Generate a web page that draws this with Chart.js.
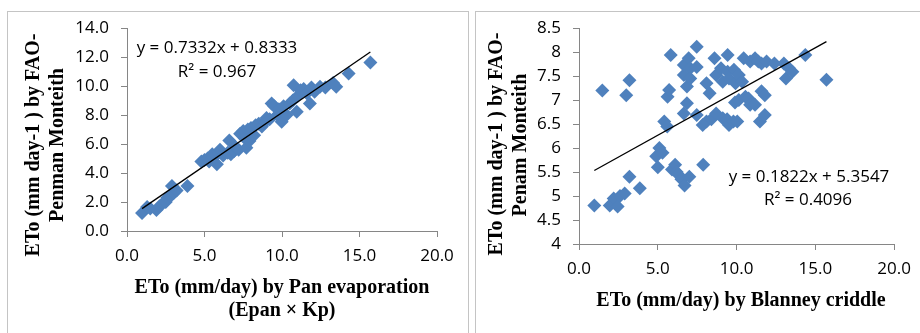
<!DOCTYPE html>
<html>
<head>
    <title>ETo comparison</title>
    <script src="https://cdn.jsdelivr.net/npm/chart.js"></script>
    <style>
        body { margin: 0; background: #fff; width: 920px; height: 333px; overflow: hidden; position: relative; }
        .panel { position: absolute; top: 11px; height: 340px; border: 1px solid #c4c4c4; }
        canvas { position: absolute; top: 0; }
    </style>
</head>
<body>
    <div class="panel" style="left:7px; width:460px;"></div>
    <div class="panel" style="left:475px; width:460px;"></div>
    <canvas id="panChart" width="468" height="333" style="left:0"></canvas>
    <canvas id="bcChart" width="450" height="333" style="left:470px"></canvas>

    <script>
        // ETo by Pan evaporation (x) vs FAO-Penman Monteith (y)
        const panX = [0.97, 1.3, 1.5, 1.9, 2.1, 2.3, 2.5, 2.6, 2.8, 2.9, 3.0, 3.2, 3.9,
            4.8, 5.0, 5.2, 5.3, 5.5, 5.6, 5.8, 5.9, 6.0, 6.2, 6.5, 6.6, 6.7, 6.9, 7.0, 7.2,
            7.3, 7.5, 7.6, 7.7, 7.8, 7.9, 8.0, 8.2, 8.3, 8.5, 8.7, 8.9, 9.0, 9.2, 9.33, 9.5,
            9.7, 9.8, 9.98, 10.1, 10.3, 10.5, 10.7, 10.75, 10.95, 11.0, 11.2, 11.4, 11.6, 11.8,
            11.9, 12.1, 12.45, 12.8, 13.3, 13.5, 14.3, 15.7];
        const panY = [1.24, 1.65, 1.55, 1.45, 1.7, 1.9, 2.0, 2.3, 2.4, 3.1, 2.6, 2.8, 3.1,
            4.8, 4.9, 5.0, 4.8, 5.3, 5.1, 4.6, 5.4, 5.6, 5.2, 5.4, 6.25, 5.3, 5.5, 5.8, 5.6,
            6.7, 6.9, 6.4, 5.75, 7.0, 6.2, 7.1, 6.6, 7.3, 7.4, 7.2, 7.5, 7.8, 7.7, 8.8, 8.6,
            8.0, 8.4, 7.54, 8.6, 8.0, 8.8, 9.0, 10.05, 8.23, 9.3, 9.7, 9.8, 9.5, 8.8,
            9.9, 9.6, 9.95, 9.9, 10.2, 9.95, 10.87, 11.62];

        // ETo by Blanney criddle (x) vs FAO-Penam Monteith (y)
        const bcX = [0.97, 1.48, 1.95, 2.2, 2.45, 2.6, 2.9, 3.0, 3.2, 3.2, 3.86, 4.9, 5.0, 5.1,
            5.3, 5.41, 5.6, 5.62, 5.72, 5.82, 5.9, 6.1, 6.2, 6.3, 6.5, 6.65, 6.65, 6.65, 6.7,
            6.85, 6.85, 6.96, 7.0, 7.06, 7.06, 7.47, 7.47, 7.47, 7.85, 7.88, 8.09, 8.09, 8.29,
            8.4, 8.6, 8.7, 8.7, 9.01, 9.12, 9.12, 9.4, 9.43, 9.43, 9.52, 9.52, 9.8, 9.83, 9.9,
            9.93, 10.04, 10.14, 10.14, 10.35, 10.45, 10.56, 10.76, 10.86, 10.86, 11.17, 11.17,
            11.38, 11.48, 11.58, 11.58, 11.79, 11.79, 11.9, 12.4, 13.0, 13.13, 13.33, 13.54,
            14.36, 15.7];
        const bcY = [4.80, 7.20, 4.80, 4.95, 4.78, 5.0, 5.05, 7.10, 7.41, 5.40, 5.16, 5.83, 5.6, 6.0,
            5.9, 6.55, 6.45, 7.07, 7.21, 7.94, 5.55, 5.65, 5.5, 5.45, 5.35, 7.73, 7.52, 6.72, 5.22,
            7.28, 6.93, 7.87, 5.4, 7.66, 7.45, 7.69, 8.11, 6.69, 6.48, 5.65, 7.35, 6.55, 7.14,
            6.6, 7.87, 7.52, 6.72, 7.66, 7.38, 6.62, 6.6, 7.94, 7.59, 7.45, 6.48, 6.55, 7.63, 6.95,
            7.35, 6.55, 7.52, 7.0, 7.38, 7.87, 7.07, 7.03, 7.8, 6.9, 7.87, 6.9,
            7.8, 6.55, 7.76, 7.18, 7.1, 6.69, 7.8, 7.76, 7.76, 7.45, 7.66, 7.59,
            7.94, 7.42];

        // trendline equations printed on the charts
        const panFit = { slope: 0.7332, intercept: 0.8333, r2: '0.967' };
        const bcFit = { slope: 0.1822, intercept: 5.3547, r2: '0.4096' };

        const markerColor = '#4F81BD';
        const axisColor = '#868686';
        const tickFont = { family: 'Open Sans', size: 17 };
        const titleFont = 'bold 20px "Liberation Serif"';
        const eqFont = '17px "Open Sans"';

        // draws axis titles and the equation text
        const textPlugin = {
            id: 'texts',
            afterDraw(chart, args, opts) {
                const ctx = chart.ctx;
                opts.items.forEach(t => {
                    ctx.save();
                    ctx.fillStyle = '#000';
                    ctx.font = t.font;
                    ctx.textAlign = 'center';
                    ctx.textBaseline = 'alphabetic';
                    ctx.translate(t.x, t.y);
                    if (t.rot) ctx.rotate(-Math.PI / 2);
                    ctx.fillText(t.text, 0, 0);
                    ctx.restore();
                });
            }
        };

        function points(xs, ys) {
            return xs.map((x, i) => ({ x: x, y: ys[i] }));
        }

        function trend(xs, fit) {
            const lo = Math.min(...xs), hi = Math.max(...xs);
            return [
                { x: lo, y: fit.slope * lo + fit.intercept },
                { x: hi, y: fit.slope * hi + fit.intercept }
            ];
        }

        function makeChart(id, xs, ys, fit, yMin, yMax, yStep, yFmt, box, texts) {
            return new Chart(document.getElementById(id), {
                type: 'scatter',
                data: {
                    datasets: [
                        {
                            data: trend(xs, fit),
                            showLine: true,
                            borderColor: '#000',
                            borderWidth: 1.3,
                            pointRadius: 0,
                            order: 0
                        },
                        {
                            data: points(xs, ys),
                            pointStyle: 'rectRot',
                            pointRadius: 7,
                            pointBackgroundColor: markerColor,
                            pointBorderColor: markerColor,
                            pointBorderWidth: 0,
                            order: 1
                        }
                    ]
                },
                options: {
                    responsive: false,
                    animation: false,
                    layout: { padding: { left: 0, top: box.top, right: box.right, bottom: 0 } },
                    plugins: {
                        legend: { display: false },
                        tooltip: { enabled: false },
                        texts: { items: texts }
                    },
                    scales: {
                        x: {
                            min: 0, max: 20,
                            ticks: { stepSize: 5, color: '#000', font: tickFont, padding: 9,
                                     maxRotation: 0, callback: v => v.toFixed(1) },
                            grid: { drawOnChartArea: false, tickLength: 6, color: axisColor },
                            border: { color: axisColor },
                            afterFit: s => { s.height = box.xh; }
                        },
                        y: {
                            min: yMin, max: yMax,
                            ticks: { stepSize: yStep, color: '#000', font: tickFont, padding: 12,
                                     callback: yFmt },
                            grid: { drawOnChartArea: false, tickLength: 6, color: axisColor },
                            border: { color: axisColor },
                            afterFit: s => { s.width = box.yw; }
                        }
                    }
                },
                plugins: [textPlugin]
            });
        }

        makeChart('panChart', panX, panY, panFit, 0, 14, 2, v => v.toFixed(1),
            { top: 28, right: 31, yw: 127, xh: 102 },
            [
                { text: 'ETo (mm day-1 ) by FAO-', x: 39, y: 145, rot: true, font: titleFont },
                { text: 'Penman Monteith', x: 63, y: 145, rot: true, font: titleFont },
                { text: 'ETo (mm/day) by Pan evaporation', x: 282, y: 293, font: titleFont },
                { text: '(Epan \u00d7 Kp)', x: 282, y: 316, font: titleFont },
                { text: 'y = ' + panFit.slope + 'x + ' + panFit.intercept, x: 217, y: 53, font: eqFont },
                { text: 'R\u00b2 = ' + panFit.r2, x: 217, y: 77, font: eqFont }
            ]);

        makeChart('bcChart', bcX, bcY, bcFit, 4, 8.5, 0.5, v => String(v),
            { top: 28, right: 17, yw: 109, xh: 89 },
            [
                { text: 'ETo (mm day-1 ) by FAO-', x: 32, y: 144, rot: true, font: titleFont },
                { text: 'Penam Monteith', x: 56, y: 145, rot: true, font: titleFont },
                { text: 'ETo (mm/day) by Blanney criddle', x: 271, y: 306, font: titleFont },
                { text: 'y = ' + bcFit.slope + 'x + ' + bcFit.intercept, x: 339, y: 182, font: eqFont },
                { text: 'R\u00b2 = ' + bcFit.r2, x: 338, y: 205, font: eqFont }
            ]);
    </script>
</body>
</html>
